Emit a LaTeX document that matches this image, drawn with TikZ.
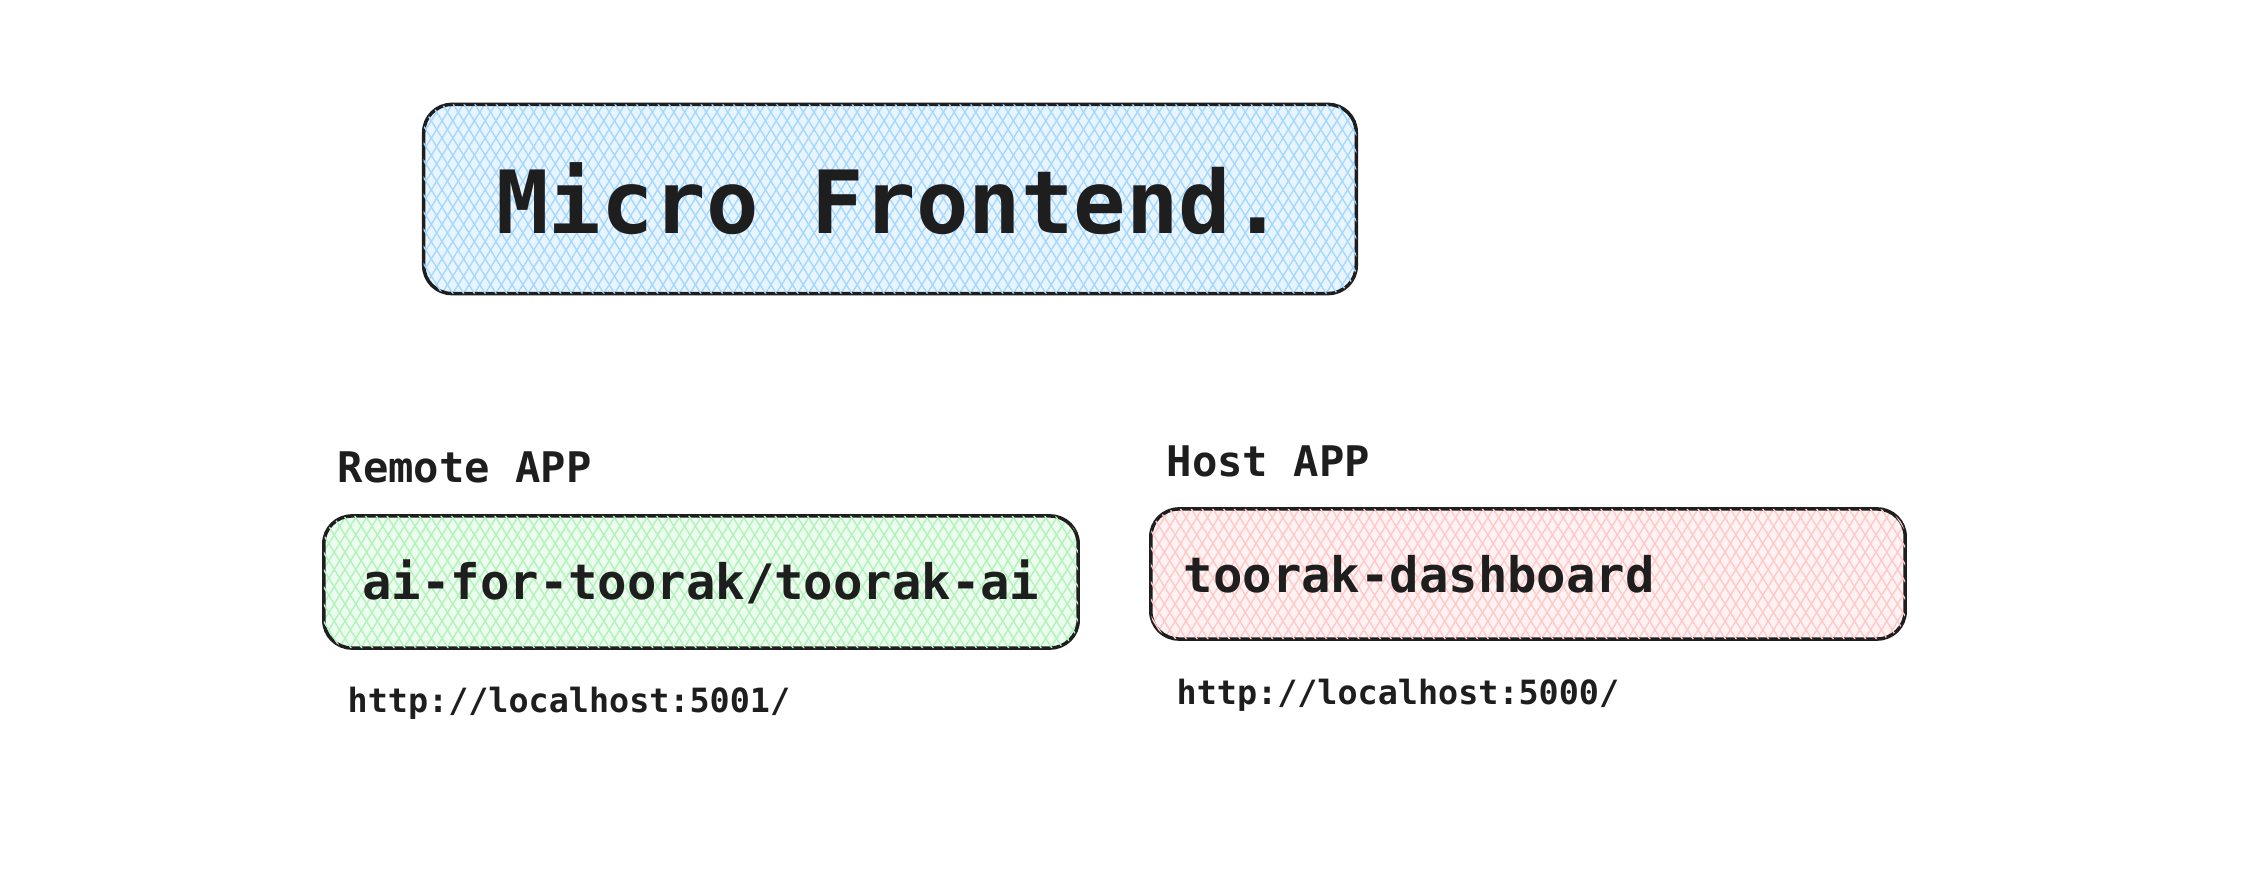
\documentclass[tikz,border=0pt]{standalone}
\usepackage{fontspec}
\usepackage{tikz}
\usetikzlibrary{patterns.meta}
\newfontfamily\handmono{DejaVu Sans Mono}
\definecolor{ink}{HTML}{1E1E1E}
\definecolor{hblue}{HTML}{A5D8FF}
\definecolor{hgreen}{HTML}{B2F2BB}
\definecolor{hred}{HTML}{FFC9C9}

\begin{document}
\begin{tikzpicture}[x=0.01cm,y=-0.01cm,
    box/.style={draw=ink,line width=1pt,rounded corners=0.28cm,inner sep=0pt,text=ink},
    hatch/.style={preaction={fill=#1!25},
        pattern={Lines[angle=58,distance=2.6pt,line width=0.4pt]},pattern color=#1,
        postaction={pattern={Lines[angle=-58,distance=2.6pt,line width=0.4pt]},pattern color=#1}},
    lbl/.style={anchor=base west,inner sep=0pt,text=ink,font=\handmono\bfseries\fontsize{12}{14}\selectfont},
    url/.style={anchor=base west,inner sep=0pt,text=ink,font=\handmono\bfseries\fontsize{9.5}{11}\selectfont}]
  \useasboundingbox[fill=white] (0,0) rectangle (2248,880);
  % title
  \node[box,hatch=hblue,minimum width=9.32cm,minimum height=1.89cm,
        font=\handmono\bfseries\fontsize{24.8}{30}\selectfont] (title) at (890,199) {Micro Frontend.};
  % remote app
  \node[lbl] (remotelbl) at (337,483) {Remote APP};
  \node[box,hatch=hgreen,minimum width=7.54cm,minimum height=1.32cm,
        font=\handmono\bfseries\fontsize{13.9}{16}\selectfont] (remote) at (701,582) {ai-for-toorak/toorak-ai};
  \node[url] (remoteurl) at (347,713) {http://localhost:5001/};
  % host app
  \node[lbl] (hostlbl) at (1166,477) {Host APP};
  \node[box,hatch=hred,minimum width=7.54cm,minimum height=1.30cm,text width=6.88cm,
        inner xsep=0.33cm,align=left,
        font=\handmono\bfseries\fontsize{13.9}{16}\selectfont] (host) at (1528,574) {toorak-dashboard};
  \node[url] (hosturl) at (1176,705) {http://localhost:5000/};
\end{tikzpicture}
\end{document}
